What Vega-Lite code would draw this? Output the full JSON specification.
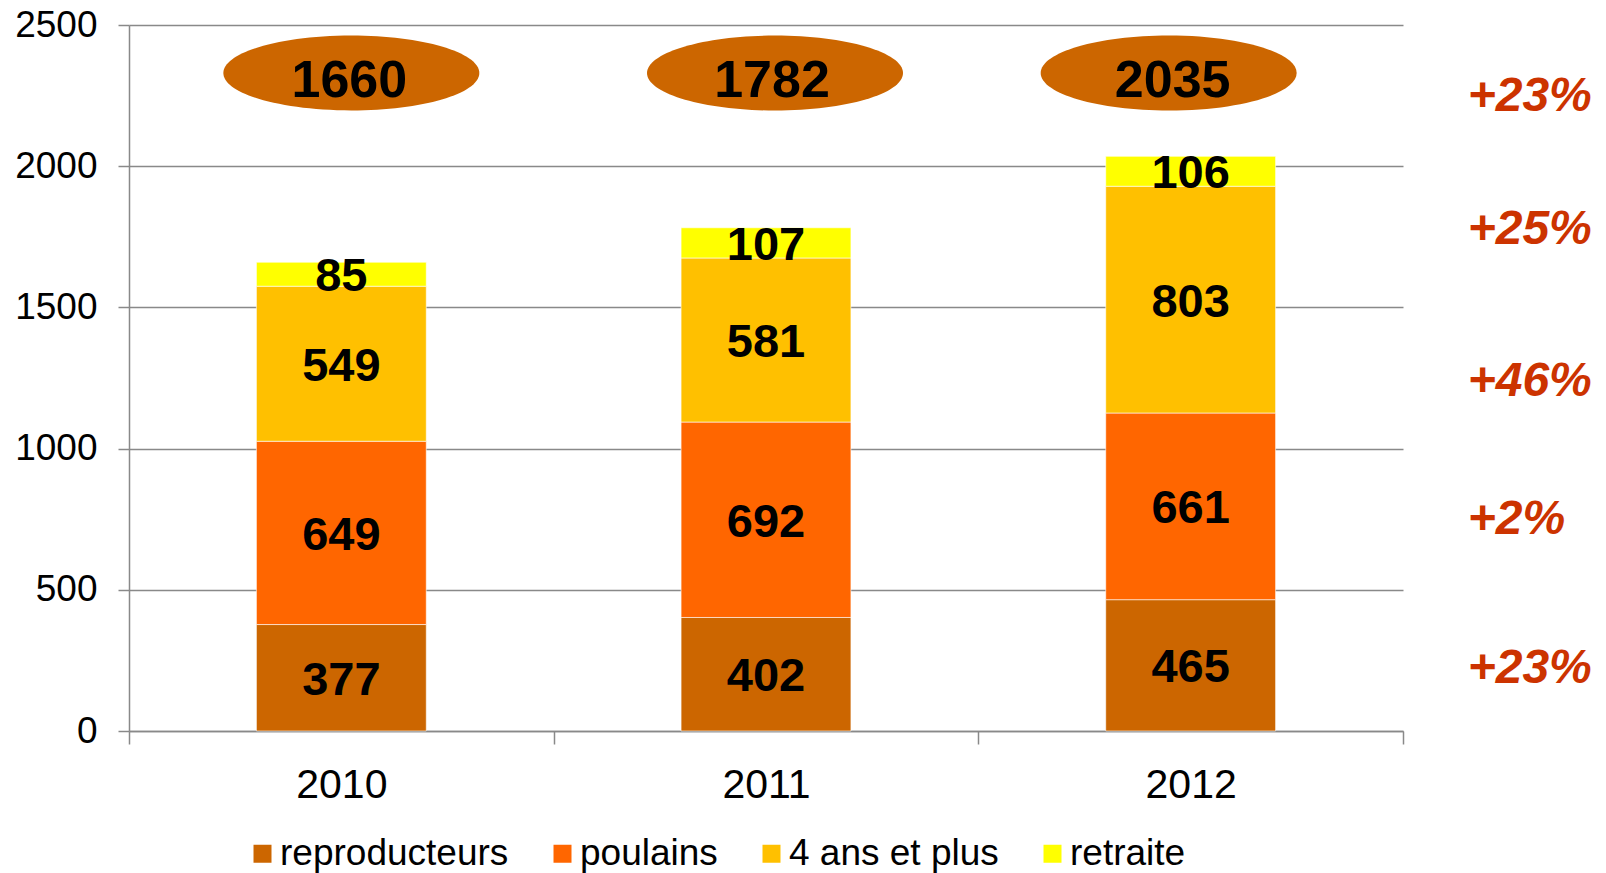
{
  "$schema": "https://vega.github.io/schema/vega-lite/v6.json",
  "width": 1274,
  "height": 706,
  "autosize": {"type": "none"},
  "padding": {"left": 129, "top": 25, "right": 203, "bottom": 142},
  "background": "#ffffff",
  "config": {"font": "Liberation Sans", "view": {"stroke": null}},
  "datasets": {
    "segments": [
      {"annee": "2010", "categorie": "reproducteurs", "rang": 1, "effectif": 377},
      {"annee": "2010", "categorie": "poulains", "rang": 2, "effectif": 649},
      {"annee": "2010", "categorie": "4 ans et plus", "rang": 3, "effectif": 549},
      {"annee": "2010", "categorie": "retraite", "rang": 4, "effectif": 85},
      {"annee": "2011", "categorie": "reproducteurs", "rang": 1, "effectif": 402},
      {"annee": "2011", "categorie": "poulains", "rang": 2, "effectif": 692},
      {"annee": "2011", "categorie": "4 ans et plus", "rang": 3, "effectif": 581},
      {"annee": "2011", "categorie": "retraite", "rang": 4, "effectif": 107},
      {"annee": "2012", "categorie": "reproducteurs", "rang": 1, "effectif": 465},
      {"annee": "2012", "categorie": "poulains", "rang": 2, "effectif": 661},
      {"annee": "2012", "categorie": "4 ans et plus", "rang": 3, "effectif": 803},
      {"annee": "2012", "categorie": "retraite", "rang": 4, "effectif": 106}
    ],
    "totaux": [
      {"annee": "2010", "total": 1660},
      {"annee": "2011", "total": 1782},
      {"annee": "2012", "total": 2035}
    ],
    "evolution": [
      {"serie": "total", "variation": "+23%", "niveau": 2256},
      {"serie": "retraite", "variation": "+25%", "niveau": 1785},
      {"serie": "4 ans et plus", "variation": "+46%", "niveau": 1246},
      {"serie": "poulains", "variation": "+2%", "niveau": 758},
      {"serie": "reproducteurs", "variation": "+23%", "niveau": 230}
    ]
  },
  "layer": [
    {
      "data": {"name": "segments"},
      "mark": {"type": "bar", "width": {"band": 0.4}, "stroke": "#ffffff", "strokeWidth": 0.6},
      "encoding": {
        "x": {
          "field": "annee", "type": "nominal", "title": null,
          "scale": {"paddingInner": 0, "paddingOuter": 0},
          "axis": {
            "title": null, "tickBand": "extent", "labelAngle": 0,
            "labelFontSize": 41, "labelColor": "#000000", "labelFont": "Liberation Sans",
            "tickSize": 13, "tickColor": "#898989", "tickWidth": 1.5,
            "domainColor": "#898989", "domainWidth": 1.5, "labelPadding": 21, "grid": false
          }
        },
        "y": {
          "field": "effectif", "type": "quantitative", "stack": "zero", "title": null,
          "scale": {"domain": [0, 2500], "nice": false},
          "axis": {
            "title": null, "values": [0, 500, 1000, 1500, 2000, 2500], "format": "d",
            "grid": true, "gridColor": "#898989", "gridWidth": 1.5,
            "tickSize": 11, "tickColor": "#898989", "tickWidth": 1.5,
            "domainColor": "#898989", "domainWidth": 1.5,
            "labelFontSize": 37, "labelColor": "#000000", "labelFont": "Liberation Sans",
            "labelPadding": 21
          }
        },
        "color": {
          "field": "categorie", "type": "nominal",
          "scale": {
            "domain": ["reproducteurs", "poulains", "4 ans et plus", "retraite"],
            "range": ["#CC6600", "#FF6600", "#FFC000", "#FFFF00"]
          },
          "legend": {
            "orient": "none", "legendX": 115, "legendY": 810, "direction": "horizontal",
            "title": null, "symbolType": "square", "symbolSize": 324, "symbolStrokeWidth": 0,
            "labelFontSize": 37, "labelFont": "Liberation Sans", "labelColor": "#000000",
            "labelOffset": -1, "columnPadding": 35, "padding": 0, "labelLimit": 400
          }
        },
        "order": {"field": "rang", "type": "quantitative"}
      }
    },
    {
      "data": {"name": "segments"},
      "mark": {"type": "text", "fontSize": 47, "fontWeight": "bold", "color": "#000000", "baseline": "middle", "dy": 3, "font": "Liberation Sans"},
      "encoding": {
        "x": {"field": "annee", "type": "nominal", "title": null},
        "y": {"field": "effectif", "type": "quantitative", "stack": "zero", "bandPosition": 0.5, "title": null},
        "detail": {"field": "categorie"},
        "order": {"field": "rang", "type": "quantitative"},
        "text": {"field": "effectif", "type": "quantitative"}
      }
    },
    {
      "data": {"name": "totaux"},
      "transform": [{"filter": "datum.annee == '2010'"}],
      "mark": {"type": "point", "shape": "M -1 0 A 1 0.293 0 1 0 1 0 A 1 0.293 0 1 0 -1 0 Z", "size": 65536, "filled": true, "color": "#CC6600", "opacity": 1, "strokeWidth": 0, "xOffset": 10},
      "encoding": {
        "x": {"field": "annee", "type": "nominal", "title": null},
        "y": {"datum": 2330, "type": "quantitative", "title": null}
      }
    },
    {
      "data": {"name": "totaux"},
      "transform": [{"filter": "datum.annee == '2011'"}],
      "mark": {"type": "point", "shape": "M -1 0 A 1 0.293 0 1 0 1 0 A 1 0.293 0 1 0 -1 0 Z", "size": 65536, "filled": true, "color": "#CC6600", "opacity": 1, "strokeWidth": 0, "xOffset": 9},
      "encoding": {
        "x": {"field": "annee", "type": "nominal", "title": null},
        "y": {"datum": 2330, "type": "quantitative", "title": null}
      }
    },
    {
      "data": {"name": "totaux"},
      "transform": [{"filter": "datum.annee == '2012'"}],
      "mark": {"type": "point", "shape": "M -1 0 A 1 0.293 0 1 0 1 0 A 1 0.293 0 1 0 -1 0 Z", "size": 65536, "filled": true, "color": "#CC6600", "opacity": 1, "strokeWidth": 0, "xOffset": -22},
      "encoding": {
        "x": {"field": "annee", "type": "nominal", "title": null},
        "y": {"datum": 2330, "type": "quantitative", "title": null}
      }
    },
    {
      "data": {"name": "totaux"},
      "transform": [{"filter": "datum.annee == '2010'"}],
      "mark": {"type": "text", "fontSize": 52, "fontWeight": "bold", "color": "#000000", "baseline": "middle", "dy": 8, "dx": 8, "font": "Liberation Sans"},
      "encoding": {
        "x": {"field": "annee", "type": "nominal", "title": null},
        "y": {"datum": 2330, "type": "quantitative", "title": null},
        "text": {"field": "total", "type": "quantitative"}
      }
    },
    {
      "data": {"name": "totaux"},
      "transform": [{"filter": "datum.annee == '2011'"}],
      "mark": {"type": "text", "fontSize": 52, "fontWeight": "bold", "color": "#000000", "baseline": "middle", "dy": 8, "dx": 6, "font": "Liberation Sans"},
      "encoding": {
        "x": {"field": "annee", "type": "nominal", "title": null},
        "y": {"datum": 2330, "type": "quantitative", "title": null},
        "text": {"field": "total", "type": "quantitative"}
      }
    },
    {
      "data": {"name": "totaux"},
      "transform": [{"filter": "datum.annee == '2012'"}],
      "mark": {"type": "text", "fontSize": 52, "fontWeight": "bold", "color": "#000000", "baseline": "middle", "dy": 8, "dx": -18, "font": "Liberation Sans"},
      "encoding": {
        "x": {"field": "annee", "type": "nominal", "title": null},
        "y": {"datum": 2330, "type": "quantitative", "title": null},
        "text": {"field": "total", "type": "quantitative"}
      }
    },
    {
      "data": {"name": "evolution"},
      "mark": {"type": "text", "fontSize": 48, "fontWeight": "bold", "fontStyle": "italic", "color": "#CC3300", "align": "left", "baseline": "middle", "dx": 277, "dy": 3, "font": "Liberation Sans"},
      "encoding": {
        "x": {"datum": "2012", "type": "nominal", "title": null},
        "y": {"field": "niveau", "type": "quantitative", "title": null},
        "text": {"field": "variation", "type": "nominal"}
      }
    }
  ]
}
